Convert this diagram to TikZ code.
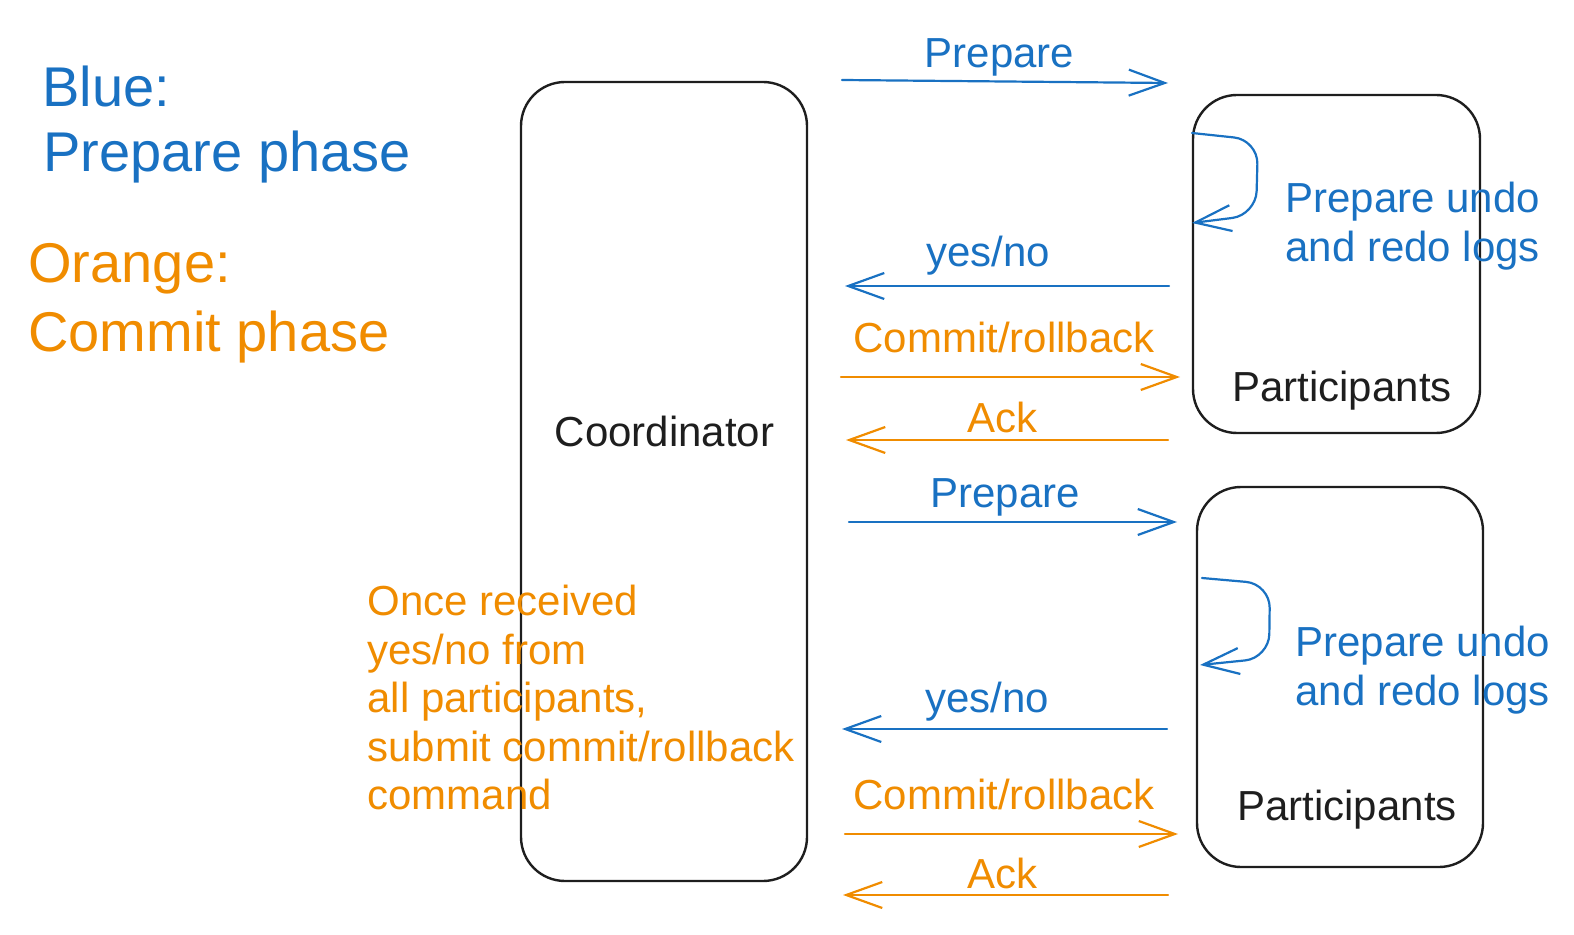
\documentclass[tikz,border=0pt]{standalone}
\usepackage{fontspec}
\setmainfont{Liberation Sans}
\usepackage{tikz}
\usetikzlibrary{
arrows.meta,
positioning
}
\definecolor{tpcblue}{HTML}{1971C2}
\definecolor{tpcorange}{HTML}{F08C00}
\definecolor{tpcblack}{HTML}{1E1E1E}

\tikzset{
  box/.style={draw=tpcblack, line width=1.2pt, rounded corners=22pt, inner sep=0pt},
  msg/.style={line width=1.1pt, line cap=round, -{Straight Barb[length=18pt, width=13pt]}},
  lbl/.style={font=\fontsize{21}{24}\selectfont, inner sep=0pt, anchor=base},
  note/.style={font=\fontsize{21}{24.2}\selectfont, inner sep=0pt, anchor=north west, align=left},
  legend/.style={font=\fontsize{28}{34}\selectfont, inner sep=0pt, anchor=base west}
}

\begin{document}
\begin{tikzpicture}[x=0.5pt, y=-0.5pt]
  \useasboundingbox (0,0) rectangle (1574,935);
  % Legend — hand-written
  \node[legend, text=tpcblue] (blue1) at (42,107) {Blue:};
  \node[legend, text=tpcblue] (blue2) at (43,172) {Prepare phase};
  \node[legend, text=tpcorange] (orange1) at (28,283) {Orange:};
  \node[legend, text=tpcorange] (orange2) at (28,352) {Commit phase};
  % Coordinator and participants
  \node[box, minimum width=143pt, minimum height=399.5pt] (coord) at (664,481.5) {};
  \node[box, minimum width=143.5pt, minimum height=169pt] (part1) at (1336.5,264) {};
  \node[box, minimum width=143pt, minimum height=190pt] (part2) at (1340,677) {};
  \node[lbl, text=tpcblack] (coordlbl) at (664.5,447) {Coordinator};
  \node[lbl, text=tpcblack] (part1lbl) at (1342,402) {Participants};
  \node[lbl, text=tpcblack] (part2lbl) at (1347,820) {Participants};
  % Note beside the coordinator
  \node[note, text=tpcorange] (decide) at (367,585) {Once received\\yes/no from\\all participants,\\submit commit/rollback\\command};
  % Local prepare step
  \node[note, text=tpcblue] (undo1) at (1285,182) {Prepare undo\\and redo logs};
  \node[note, text=tpcblue] (undo2) at (1295,626) {Prepare undo\\and redo logs};
  \coordinate (loop1s) at (1192,133);
  \coordinate (loop1e) at (1192,223);
  \coordinate (loop2s) at (1202,578);
  \coordinate (loop2e) at (1200,665);
  \draw[msg, tpcblue, rounded corners=12pt] (loop1s) -- (1258,140) -- (1256,215) -- (loop1e);
  \draw[msg, tpcblue, rounded corners=12pt] (loop2s) -- (1270,584) -- (1269,658) -- (loop2e);
  % First round of messages
  \coordinate (prep1a) at (842,80);   \coordinate (prep1b) at (1168,83);
  \coordinate (vote1a) at (1169,286); \coordinate (vote1b) at (845,286);
  \coordinate (comm1a) at (841,377);  \coordinate (comm1b) at (1180,377);
  \coordinate (ack1a) at (1168,440);  \coordinate (ack1b) at (846,440);
  \draw[msg, tpcblue] (prep1a) -- (prep1b);
  \draw[msg, tpcblue] (vote1a) -- (vote1b);
  \draw[msg, tpcorange] (comm1a) -- (comm1b);
  \draw[msg, tpcorange] (ack1a) -- (ack1b);
  \node[lbl, text=tpcblue] (prep1lbl) at (999.5,68) {Prepare};
  \node[lbl, text=tpcblue] (vote1lbl) at (988,267) {yes/no};
  \node[lbl, text=tpcorange] (comm1lbl) at (1004,353) {Commit/rollback};
  \node[lbl, text=tpcorange] (ack1lbl) at (1002,433) {Ack};
  % Second round of messages
  \coordinate (prep2a) at (849,522);  \coordinate (prep2b) at (1177,522);
  \coordinate (vote2a) at (1167,729); \coordinate (vote2b) at (842,729);
  \coordinate (comm2a) at (845,834);  \coordinate (comm2b) at (1178,834);
  \coordinate (ack2a) at (1168,895);  \coordinate (ack2b) at (843,895);
  \draw[msg, tpcblue] (prep2a) -- (prep2b);
  \draw[msg, tpcblue] (vote2a) -- (vote2b);
  \draw[msg, tpcorange] (comm2a) -- (comm2b);
  \draw[msg, tpcorange] (ack2a) -- (ack2b);
  \node[lbl, text=tpcblue] (prep2lbl) at (1005,508) {Prepare};
  \node[lbl, text=tpcblue] (vote2lbl) at (987,712) {yes/no};
  \node[lbl, text=tpcorange] (comm2lbl) at (1004,809) {Commit/rollback};
  \node[lbl, text=tpcorange] (ack2lbl) at (1002,888) {Ack};
\end{tikzpicture}
\end{document}
